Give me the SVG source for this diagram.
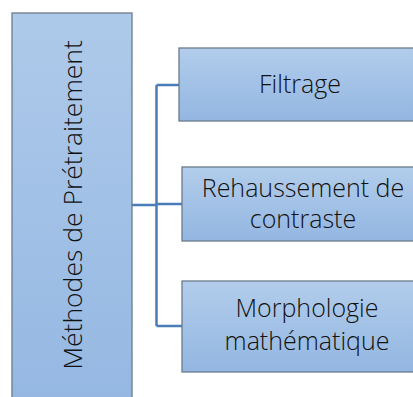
<svg xmlns="http://www.w3.org/2000/svg" width="413" height="397" viewBox="0 0 413 397">
<defs>
<linearGradient id="g" x1="0" y1="0" x2="0" y2="1">
<stop offset="0" stop-color="#b2cdeb"/>
<stop offset="1" stop-color="#93b6e1"/>
</linearGradient>
<linearGradient id="gv" x1="0" y1="0" x2="0" y2="1">
<stop offset="0" stop-color="#aecaea"/>
<stop offset="1" stop-color="#94b7e2"/>
</linearGradient>
</defs>
<style>
.box{stroke:#6b7b8c;stroke-width:1.3}
.t{font-family:"Open Sans","Noto Sans",sans-serif;font-weight:300;font-size:25px;fill:#111;text-anchor:middle}
.c{fill:none;stroke:#4a7db8;stroke-width:2.5}
</style>
<g id="connectors">
<path class="c" d="M132 205 H156.5 M156.5 85 V326 M156.5 85 H179 M156.5 204 H182 M156.5 326 H182"/>
</g>
<g id="root">
<rect class="box" x="12" y="13" width="120" height="400" fill="url(#gv)"/>
<text class="t" transform="translate(82 205) rotate(-90)" style="font-size:26.5px">Méthodes de Prétraitement</text>
</g>
<g id="filtrage">
<rect class="box" x="179" y="48" width="250" height="73" fill="url(#g)"/>
<text class="t" x="300" y="93">Filtrage</text>
</g>
<g id="rehaussement">
<rect class="box" x="182" y="167" width="250" height="74" fill="url(#g)"/>
<text class="t" x="303" y="197">Rehaussement de</text>
<text class="t" x="303" y="228">contraste</text>
</g>
<g id="morphologie">
<rect class="box" x="182" y="281" width="250" height="91" fill="url(#g)"/>
<text class="t" x="307" y="317">Morphologie</text>
<text class="t" x="307" y="350">mathématique</text>
</g>
</svg>
